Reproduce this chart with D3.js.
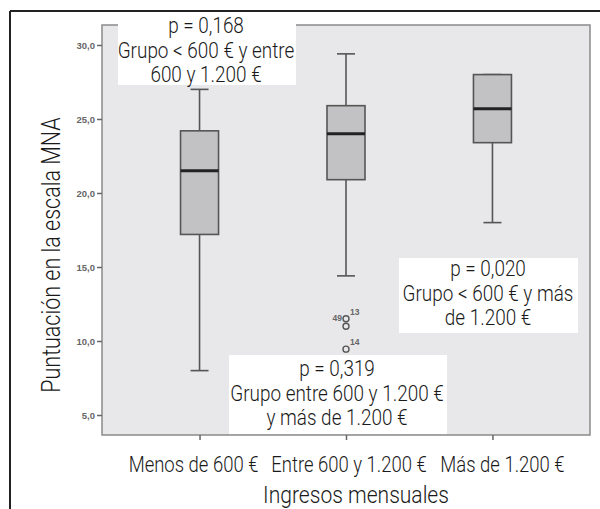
<!DOCTYPE html>
<html>
<head>
<meta charset="utf-8">
<script src="https://cdn.jsdelivr.net/npm/d3@7"></script>
<style>
  body { margin: 0; background: #fff; }
  svg { display: block; }
  .narrow { font-family: Roboto, "Liberation Sans", Arial, sans-serif; font-weight: 300; }
</style>
</head>
<body>
<div id="chart"></div>
<script>
// Data
const categories = ["Menos de 600 €", "Entre 600 y 1.200 €", "Más de 1.200 €"];
const whiskerLow = [8.0, 14.4, 18.0];
const q1 = [17.2, 20.9, 23.4];
const median = [21.5, 24.0, 25.7];
const q3 = [24.2, 25.9, 28.0];
const whiskerHigh = [27.0, 29.4, 28.0];
const outlierGroup = [1, 1, 1];
const outlierValue = [11.5, 11.0, 9.45];
const outlierLabel = ["13", "49", "14"];
const yTicks = [5, 10, 15, 20, 25, 30];
const notes = [
  ["p = 0,168", "Grupo < 600 € y entre", "600 y 1.200 €"],
  ["p = 0,020", "Grupo < 600 € y más", "de 1.200 €"],
  ["p = 0,319", "Grupo entre 600 y 1.200 €", "y más de 1.200 €"]
];

const width = 600;
const height = 509;
const plot = { left: 102, right: 590, top: 25, bottom: 435 };
const squeeze = 0.86; // condensed look, no narrow font installed

const svg = d3.select("#chart")
  .append("svg")
  .attr("width", width)
  .attr("height", height);

// Outer figure frame (top and left only)
svg.append("line").attr("x1", 10).attr("x2", width).attr("y1", 11).attr("y2", 11)
  .attr("stroke", "#222").attr("stroke-width", 2);
svg.append("line").attr("x1", 10).attr("x2", 10).attr("y1", 11).attr("y2", height)
  .attr("stroke", "#222").attr("stroke-width", 2);

const x = d3.scalePoint()
  .domain(categories)
  .range([plot.left, plot.right])
  .padding(0.666);

const y = d3.scaleLinear()
  .domain([3.65, 31.35])
  .range([plot.bottom, plot.top]);

// Plot area
svg.append("rect")
  .attr("x", plot.left).attr("y", plot.top)
  .attr("width", plot.right - plot.left).attr("height", plot.bottom - plot.top)
  .attr("fill", "#e8e8ea")
  .attr("stroke", "#8a8a8a").attr("stroke-width", 1.5);

// Y axis
const yAxis = svg.append("g")
  .attr("transform", `translate(${plot.left},0)`)
  .call(d3.axisLeft(y).tickValues(yTicks).tickSize(5).tickPadding(2)
    .tickFormat(d => d3.format(".1f")(d).replace(".", ",")));
yAxis.select(".domain").remove();
yAxis.selectAll(".tick line").attr("stroke", "#666").attr("stroke-width", 1.5);
yAxis.selectAll(".tick text")
  .attr("fill", "#666")
  .style("font-family", "Liberation Sans, sans-serif")
  .style("font-size", "9.5px")
  .style("font-weight", "bold");

// X axis (labels spread a little, as in the source figure)
const labelShift = [-6.5, 2.5, 9.5];
const xAxis = svg.append("g")
  .attr("transform", `translate(0,${plot.bottom})`)
  .call(d3.axisBottom(x).tickSize(5));
xAxis.select(".domain").remove();
xAxis.selectAll(".tick line").attr("stroke", "#666").attr("stroke-width", 1.5);
xAxis.selectAll(".tick text")
  .attr("class", "narrow")
  .attr("y", 0).attr("dy", 0)
  .attr("transform", (d, i) => `translate(${labelShift[i]},37) scale(${squeeze},1)`)
  .attr("fill", "#1a1a1a")
  .style("font-size", "21.5px");

const boxW = 38;
const capW = 18;
const idx = d3.range(categories.length);

// Whiskers
const wh = svg.append("g").attr("stroke", "#555").attr("stroke-width", 1.6);
wh.selectAll(".wlow").data(idx).join("line")
  .attr("x1", i => x(categories[i])).attr("x2", i => x(categories[i]))
  .attr("y1", i => y(q1[i])).attr("y2", i => y(whiskerLow[i]));
wh.selectAll(".whigh").data(idx).join("line")
  .attr("x1", i => x(categories[i])).attr("x2", i => x(categories[i]))
  .attr("y1", i => y(q3[i])).attr("y2", i => y(whiskerHigh[i]));
wh.selectAll(".caplow").data(idx).join("line")
  .attr("x1", i => x(categories[i]) - capW / 2).attr("x2", i => x(categories[i]) + capW / 2)
  .attr("y1", i => y(whiskerLow[i])).attr("y2", i => y(whiskerLow[i]));
wh.selectAll(".caphigh").data(idx).join("line")
  .attr("x1", i => x(categories[i]) - capW / 2).attr("x2", i => x(categories[i]) + capW / 2)
  .attr("y1", i => y(whiskerHigh[i])).attr("y2", i => y(whiskerHigh[i]));

// Boxes
svg.append("g").selectAll("rect").data(idx).join("rect")
  .attr("x", i => x(categories[i]) - boxW / 2)
  .attr("y", i => y(q3[i]))
  .attr("width", boxW)
  .attr("height", i => y(q1[i]) - y(q3[i]))
  .attr("fill", "#c2c2c4")
  .attr("stroke", "#555").attr("stroke-width", 1.6);

// Medians
svg.append("g").selectAll("line").data(idx).join("line")
  .attr("x1", i => x(categories[i]) - boxW / 2).attr("x2", i => x(categories[i]) + boxW / 2)
  .attr("y1", i => y(median[i])).attr("y2", i => y(median[i]))
  .attr("stroke", "#222").attr("stroke-width", 3);

// Outliers
const outIdx = d3.range(outlierValue.length);
svg.append("g").selectAll("circle").data(outIdx).join("circle")
  .attr("cx", i => x(categories[outlierGroup[i]]))
  .attr("cy", i => y(outlierValue[i]))
  .attr("r", 3)
  .attr("fill", "none")
  .attr("stroke", "#555").attr("stroke-width", 1.4);
const labelPos = [ { dx: 4, dy: -4, anchor: "start" }, { dx: -4, dy: -5, anchor: "end" }, { dx: 4, dy: -4, anchor: "start" } ];
svg.append("g").selectAll("text").data(outIdx).join("text")
  .attr("x", i => x(categories[outlierGroup[i]]) + labelPos[i].dx)
  .attr("y", i => y(outlierValue[i]) + labelPos[i].dy)
  .attr("text-anchor", i => labelPos[i].anchor)
  .attr("fill", "#666")
  .style("font-family", "Liberation Sans, sans-serif")
  .style("font-size", "8.5px")
  .style("font-weight", "bold")
  .text(i => outlierLabel[i]);

// Annotation boxes
const noteBoxes = [
  { x0: 118, x1: 296, y0: 12, y1: 85, cx: 206, base: 33 },
  { x0: 399, x1: 578, y0: 258, y1: 333, cx: 488, base: 276 },
  { x0: 229, x1: 447, y0: 355, y1: 434, cx: 337, base: 376 }
];
const lineStep = 24.5;
noteBoxes.forEach((b, k) => {
  svg.append("rect")
    .attr("x", b.x0).attr("y", b.y0)
    .attr("width", b.x1 - b.x0).attr("height", b.y1 - b.y0)
    .attr("fill", "#fff");
  svg.append("g").selectAll("text").data(notes[k]).join("text")
    .attr("class", "narrow")
    .attr("transform", (d, j) => `translate(${b.cx},${b.base + j * lineStep}) scale(${squeeze},1)`)
    .attr("text-anchor", "middle")
    .attr("fill", "#1a1a1a")
    .style("font-size", "22px")
    .text(d => d);
});

// Axis titles
svg.append("text")
  .attr("class", "narrow")
  .attr("transform", `translate(356,503) scale(${squeeze},1)`)
  .attr("text-anchor", "middle")
  .attr("fill", "#1a1a1a")
  .style("font-size", "24.5px")
  .text("Ingresos mensuales");

svg.append("text")
  .attr("class", "narrow")
  .attr("transform", `translate(60,255) rotate(-90) scale(${squeeze},1)`)
  .attr("text-anchor", "middle")
  .attr("fill", "#1a1a1a")
  .style("font-size", "25px")
  .text("Puntuación en la escala MNA");
</script>
</body>
</html>
